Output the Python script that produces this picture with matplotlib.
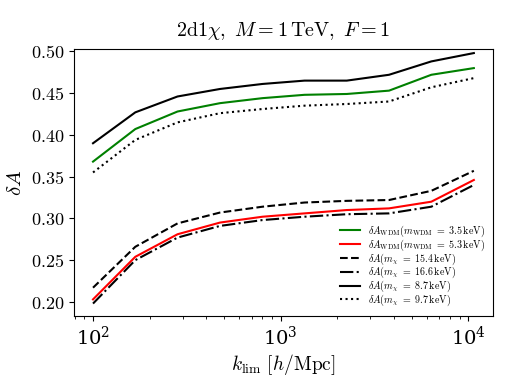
import numpy as np
import matplotlib
matplotlib.use('Agg')
import matplotlib.pyplot as plt
from matplotlib.ticker import FuncFormatter

plt.rcParams['mathtext.fontset'] = 'cm'
plt.rcParams['font.family'] = 'serif'
plt.rcParams['font.serif'] = ['DejaVu Serif']
plt.rcParams['axes.formatter.use_mathtext'] = True

# k_lim values [h/Mpc]
k_lim = [100, 168, 282, 475, 800, 1340, 2250, 3780, 6350, 10700]

# delta A curves
wdm_35 = [0.368, 0.407, 0.428, 0.438, 0.444, 0.448, 0.449, 0.453, 0.472, 0.480]
wdm_53 = [0.203, 0.254, 0.281, 0.295, 0.302, 0.306, 0.310, 0.312, 0.320, 0.346]
chi_154 = [0.217, 0.266, 0.294, 0.307, 0.314, 0.319, 0.321, 0.322, 0.333, 0.357]
chi_166 = [0.198, 0.250, 0.277, 0.291, 0.298, 0.302, 0.305, 0.306, 0.314, 0.340]
chi_87 = [0.390, 0.427, 0.446, 0.455, 0.461, 0.465, 0.465, 0.472, 0.488, 0.498]
chi_97 = [0.355, 0.394, 0.415, 0.426, 0.431, 0.435, 0.437, 0.440, 0.457, 0.468]

labels = [r'$\delta A_{\rm WDM}(m_{\rm WDM}\ =\ 3.5\,{\rm keV})$',
          r'$\delta A_{\rm WDM}(m_{\rm WDM}\ =\ 5.3\,{\rm keV})$',
          r'$\delta A(m_\chi\ =\ 15.4\,{\rm keV})$',
          r'$\delta A(m_\chi\ =\ 16.6\,{\rm keV})$',
          r'$\delta A(m_\chi\ =\ 8.7\,{\rm keV})$',
          r'$\delta A(m_\chi\ =\ 9.7\,{\rm keV})$']

fig = plt.figure(figsize=(5.05, 3.79), dpi=100)
ax = fig.add_axes([0.1465, 0.166, 0.8295, 0.705])

ax.plot(k_lim, wdm_35, color='green', lw=1.5, label=labels[0])
ax.plot(k_lim, wdm_53, color='red', lw=1.5, label=labels[1])
ax.plot(k_lim, chi_154, color='black', ls='--', lw=1.5, label=labels[2])
ax.plot(k_lim, chi_166, color='black', ls='-.', lw=1.5, label=labels[3])
ax.plot(k_lim, chi_87, color='black', ls='-', lw=1.5, label=labels[4])
ax.plot(k_lim, chi_97, color='black', ls=':', lw=1.5, label=labels[5])

ax.set_xscale('log')
ax.set_ylim(0.183, 0.503)
ax.set_yticks([0.20, 0.25, 0.30, 0.35, 0.40, 0.45, 0.50])
ax.yaxis.set_major_formatter(FuncFormatter(lambda v, p: f'${v:.2f}$'))
ax.tick_params(axis='y', labelsize=13)
ax.tick_params(axis='x', labelsize=14)

ax.set_title(r'$\mathrm{2d1}\chi,\ M=1\,\mathrm{TeV},\ F=1$', fontsize=14.5, pad=9)
ax.set_xlabel(r'$k_{\rm lim}\ [h/{\rm Mpc}]$', fontsize=14, labelpad=2)
ax.set_ylabel(r'$\delta A$', fontsize=15)

ax.legend(loc='lower right', fontsize=7.2, frameon=False, labelspacing=-0.15,
          handlelength=2.0, borderaxespad=0.4)

fig.savefig('out.png', dpi=100)
